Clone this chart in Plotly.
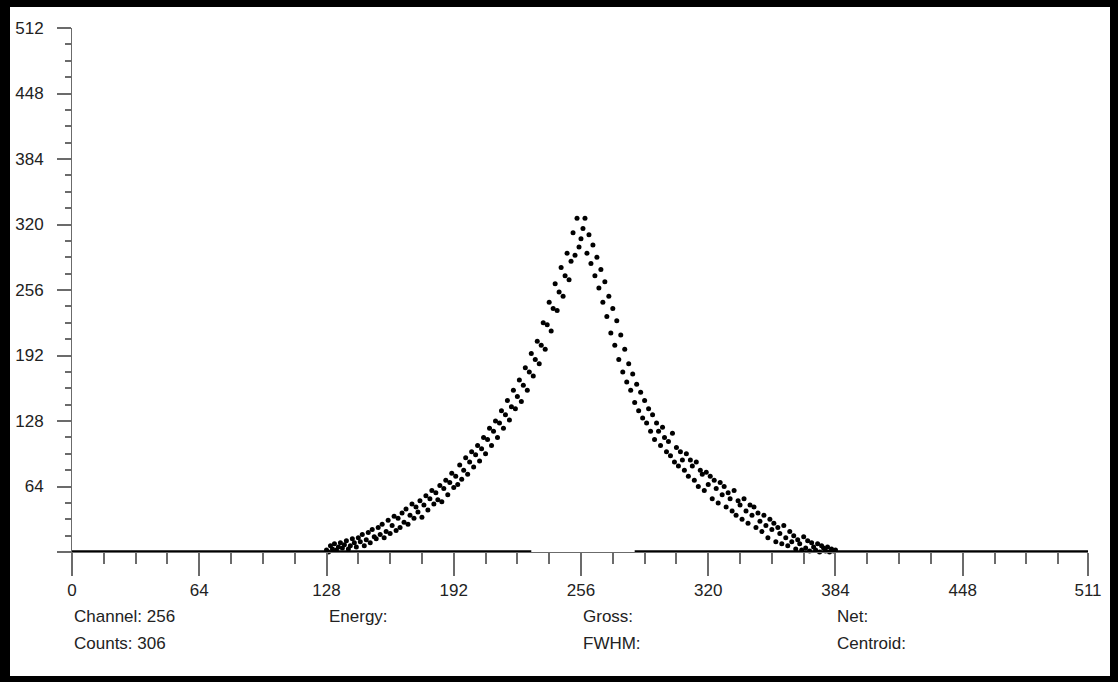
import plotly.graph_objects as go

# ---- data ----
peak_channels = list(range(128, 385))
peak_counts = [
    2, 0, 6, 3, 8, 2, 5, 9, 4, 7,               # 128-137
    11, 3, 6, 13, 9, 5, 14, 10, 17, 6,          # 138-147
    12, 19, 9, 22, 15, 13, 24, 17, 27, 14,      # 148-157
    20, 31, 18, 26, 35, 21, 33, 24, 38, 29,     # 158-167
    42, 27, 36, 47, 33, 44, 39, 50, 34, 46,     # 168-177
    55, 41, 52, 60, 47, 58, 51, 65, 49, 62,     # 178-187
    70, 56, 68, 77, 63, 74, 66, 85, 71, 80,     # 188-197
    92, 76, 88, 98, 83, 95, 104, 89, 101, 112,        # 198-207
    96, 110, 121, 104, 118, 128, 112, 126, 138, 121,  # 208-217
    134, 148, 129, 142, 158, 140, 152, 168, 147, 163,  # 218-227
    180, 158, 176, 194, 172, 188, 206, 184, 202, 224,  # 228-237
    198, 222, 244, 216, 238, 262, 236, 254, 278, 250,  # 238-247
    270, 292, 266, 284, 312, 290, 326, 298, 306, 316,  # 248-257
    326, 292, 310, 282, 300, 270, 288, 258, 276, 244,  # 258-267
    264, 230, 250, 214, 238, 202, 226, 188, 212, 176,  # 268-277
    198, 166, 184, 158, 174, 146, 164, 138, 156, 131,  # 278-287
    148, 126, 140, 118, 134, 110, 126, 118, 104, 122,  # 288-297
    112, 98, 108, 94, 116, 88, 102, 84, 98, 90,        # 298-307
    80, 96, 74, 90, 84, 70, 88, 64, 80, 76,            # 308-317
    60, 78, 66, 74, 52, 70, 62, 48, 68, 56,            # 318-327
    64, 44, 58, 52, 40, 60, 36, 50, 46, 32,            # 328-337
    52, 40, 28, 46, 36, 44, 24, 38, 30, 20,            # 338-347
    36, 26, 14, 32, 22, 28, 10, 24, 18, 8,             # 348-357
    26, 14, 6, 20, 10, 16, 3, 12, 8, 2,                # 358-367
    15, 4, 11, 1, 9, 5, 2, 8, 0, 6,                    # 368-377
    4, 1, 5, 0, 3, 1, 2,                               # 378-384
]

# zero-count baseline segments (channel ranges drawn at 0 counts)
baseline_x = [0, 231, None, 283, 511]
baseline_y = [0, 0, None, 0, 0]

x_tickvals = [0, 64, 128, 192, 256, 320, 384, 448, 511]
x_ticktext = ["0", "64", "128", "192", "256", "320", "384", "448", "511"]
y_tickvals = [0, 64, 128, 192, 256, 320, 384, 448, 512]
y_ticktext = ["", "64", "128", "192", "256", "320", "384", "448", "512"]

info_labels = [
    ("Channel: 256", 0, 0), ("Counts: 306", 0, 1),
    ("Energy:", 128, 0),
    ("Gross:", 256, 0), ("FWHM:", 256, 1),
    ("Net:", 384, 0), ("Centroid:", 384, 1),
]

FONT = "Liberation Sans Narrow, Arial Narrow, Liberation Sans, Arial, sans-serif"
FS = 17
AXC = "#6b6b6b"

fig = go.Figure()
fig.add_trace(go.Scatter(
    x=baseline_x, y=baseline_y, mode="lines",
    line=dict(color="black", width=3.5), cliponaxis=False,
    hoverinfo="skip", showlegend=False))
fig.add_trace(go.Scatter(
    x=peak_channels, y=peak_counts, mode="markers",
    marker=dict(color="black", size=5, line=dict(width=0)),
    cliponaxis=False, showlegend=False))

W, H = 1118, 682
L, R, T, B = 72, 30, 28, 130
pw, ph = W - L - R, H - T - B

def px(xp):
    return (xp - L) / pw

def py(yp):
    return (H - B - yp) / ph

# outer black frame
for (x0, x1, y0, y1) in [(0, 10, 0, H), (W - 8, W, 0, H), (0, W, 0, 7), (0, W, H - 6, H)]:
    fig.add_shape(type="rect", xref="paper", yref="paper",
                  x0=px(x0), x1=px(x1), y0=py(y1), y1=py(y0),
                  fillcolor="black", line=dict(width=0), layer="above")

for text, xc, row in info_labels:
    fig.add_annotation(x=xc, y=py(616 + 27 * row), xref="x", yref="paper",
                       text=text, showarrow=False, xanchor="left", yanchor="middle",
                       font=dict(family=FONT, size=FS, color="#222"))

fig.update_layout(
    width=W, height=H,
    margin=dict(l=L, r=R, t=T, b=B),
    paper_bgcolor="white", plot_bgcolor="white",
    font=dict(family=FONT, size=FS, color="#222"),
    showlegend=False,
    xaxis=dict(range=[0, 511], tickvals=x_tickvals, ticktext=x_ticktext,
               showgrid=False, zeroline=False, showline=True, linecolor=AXC, linewidth=1,
               ticks="outside", ticklen=23, tickwidth=1.5, tickcolor=AXC,
               tickfont=dict(family=FONT, size=FS, color="#222"),
               minor=dict(dtick=16, tick0=0, ticks="outside", ticklen=11,
                          tickwidth=1.5, tickcolor=AXC, showgrid=False)),
    yaxis=dict(range=[0, 512], tickvals=y_tickvals, ticktext=y_ticktext,
               showgrid=False, zeroline=False, showline=True, linecolor=AXC, linewidth=1,
               ticks="outside", ticklen=14, tickwidth=1.5, tickcolor=AXC,
               ticklabelstandoff=10,
               tickfont=dict(family=FONT, size=FS, color="#222"),
               minor=dict(dtick=16, tick0=0, ticks="outside", ticklen=6,
                          tickwidth=1.5, tickcolor=AXC, showgrid=False)),
)

fig.write_html("out.html")
